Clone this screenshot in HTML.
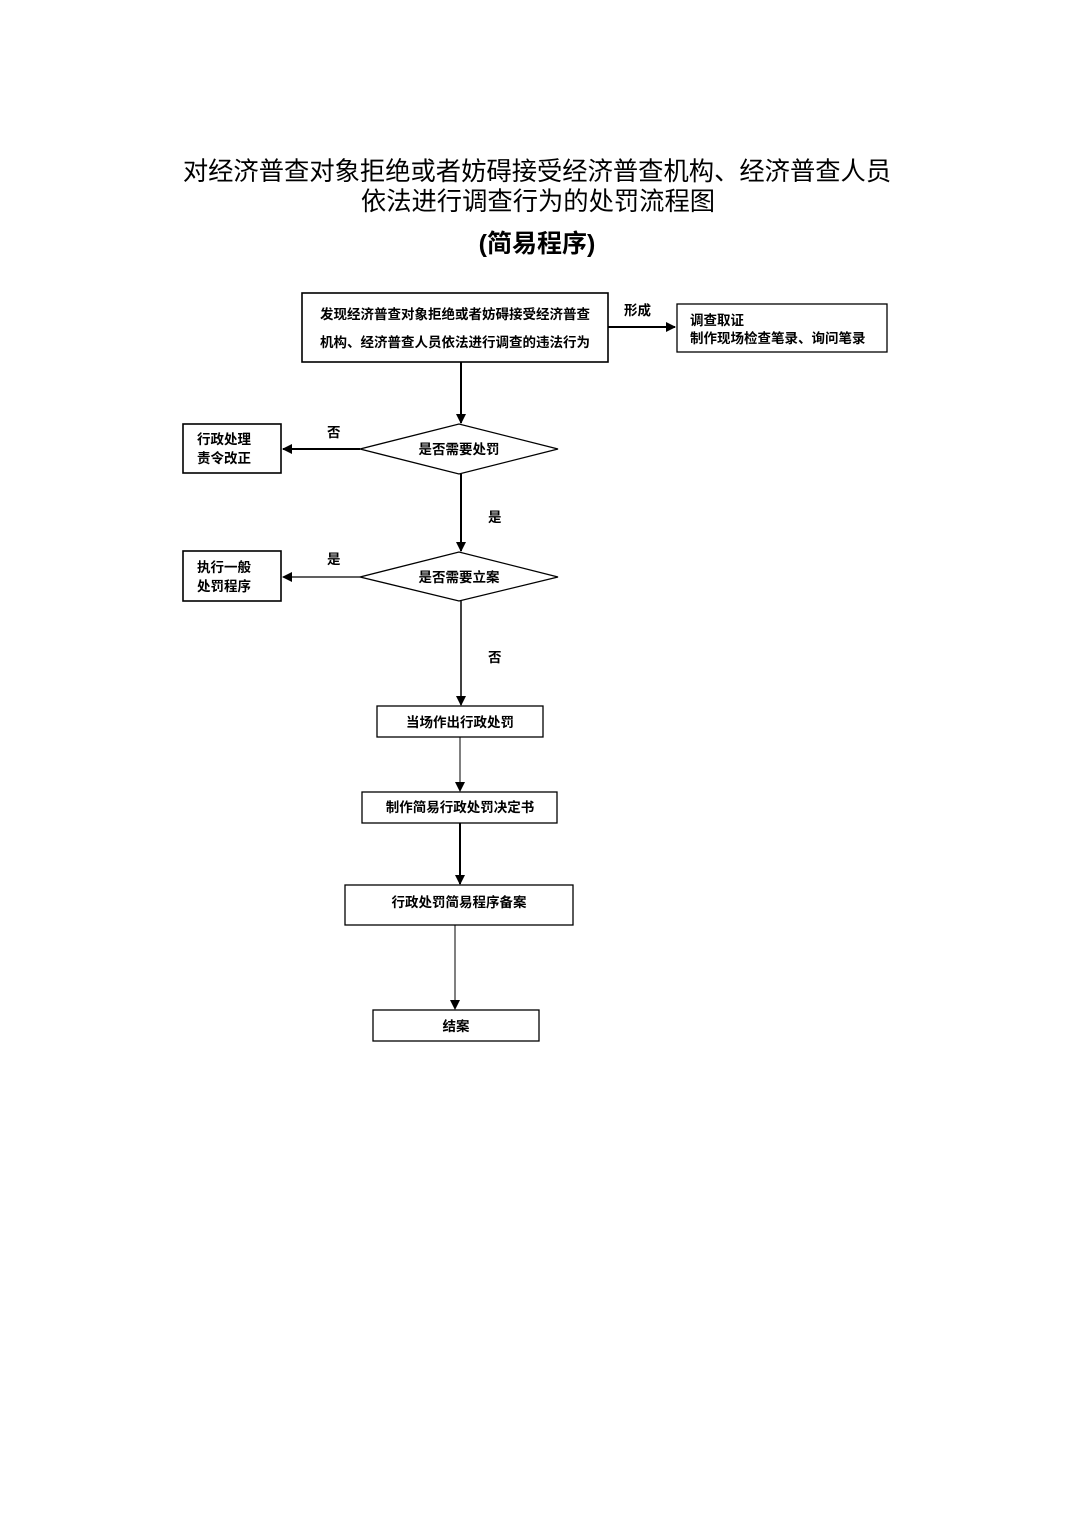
<!DOCTYPE html>
<html><head><meta charset="utf-8"><style>
html,body{margin:0;padding:0;background:#fff;}
svg text{font-family:"Liberation Sans","Noto Sans CJK SC",sans-serif;fill:#000;}
</style></head><body>
<svg width="1075" height="1520" viewBox="0 0 1075 1520" xmlns="http://www.w3.org/2000/svg">
<defs><marker id="a" markerWidth="10" markerHeight="10" refX="9" refY="5" orient="auto" markerUnits="userSpaceOnUse"><path d="M0,0 L10,5 L0,10 z" fill="#000"/></marker></defs>
<text x="537" y="180" font-size="25.3" text-anchor="middle">对经济普查对象拒绝或者妨碍接受经济普查机构、经济普查人员</text>
<text x="538" y="210" font-size="25.3" text-anchor="middle">依法进行调查行为的处罚流程图</text>
<text x="537" y="252" font-size="25" font-weight="bold" text-anchor="middle">(简易程序)</text>
<g fill="none" stroke="#000" stroke-width="1.3">
<rect x="302" y="293" width="306" height="69" stroke-width="1.6"/>
<rect x="677" y="304" width="210" height="48"/>
<polygon points="360,449 459,424 558,449 459,474"/>
<polygon points="360,577 459,552 558,577 459,601"/>
<rect x="183" y="424" width="98" height="49" stroke-width="1.6"/>
<rect x="183" y="551" width="98" height="50" stroke-width="1.6"/>
<rect x="377" y="706" width="166" height="31"/>
<rect x="362" y="792" width="195" height="31"/>
<rect x="345" y="885" width="228" height="40"/>
<rect x="373" y="1010" width="166" height="31"/>
</g>
<g stroke="#000" fill="none">
<line x1="608" y1="327" x2="675" y2="327" stroke-width="2" marker-end="url(#a)"/>
<line x1="461" y1="362" x2="461" y2="423" stroke-width="2" marker-end="url(#a)"/>
<line x1="360" y1="449" x2="283" y2="449" stroke-width="2" marker-end="url(#a)"/>
<line x1="461" y1="474" x2="461" y2="551" stroke-width="2" marker-end="url(#a)"/>
<line x1="360" y1="577" x2="283" y2="577" stroke-width="1.2" marker-end="url(#a)"/>
<line x1="461" y1="601" x2="461" y2="705" stroke-width="1.5" marker-end="url(#a)"/>
<line x1="460" y1="737" x2="460" y2="791" stroke-width="1" marker-end="url(#a)"/>
<line x1="460" y1="823" x2="460" y2="884" stroke-width="2" marker-end="url(#a)"/>
<line x1="455" y1="925" x2="455" y2="1009" stroke-width="1" marker-end="url(#a)"/>
</g>
<g font-size="13.5" font-weight="bold">
<text x="455" y="319" text-anchor="middle">发现经济普查对象拒绝或者妨碍接受经济普查</text>
<text x="455" y="347" text-anchor="middle">机构、经济普查人员依法进行调查的违法行为</text>
<text x="624" y="315">形成</text>
<text x="690" y="325">调查取证</text>
<text x="690" y="343">制作现场检查笔录、询问笔录</text>
<text x="459" y="454" text-anchor="middle">是否需要处罚</text>
<text x="459" y="582" text-anchor="middle">是否需要立案</text>
<text x="197" y="444">行政处理</text>
<text x="197" y="463">责令改正</text>
<text x="197" y="572">执行一般</text>
<text x="197" y="591">处罚程序</text>
<text x="327" y="437">否</text>
<text x="488" y="522">是</text>
<text x="327" y="564">是</text>
<text x="488" y="662">否</text>
<text x="460" y="727" text-anchor="middle">当场作出行政处罚</text>
<text x="460" y="812" text-anchor="middle">制作简易行政处罚决定书</text>
<text x="459" y="907" text-anchor="middle">行政处罚简易程序备案</text>
<text x="456" y="1031" text-anchor="middle">结案</text>
</g>
</svg>
</body></html>
